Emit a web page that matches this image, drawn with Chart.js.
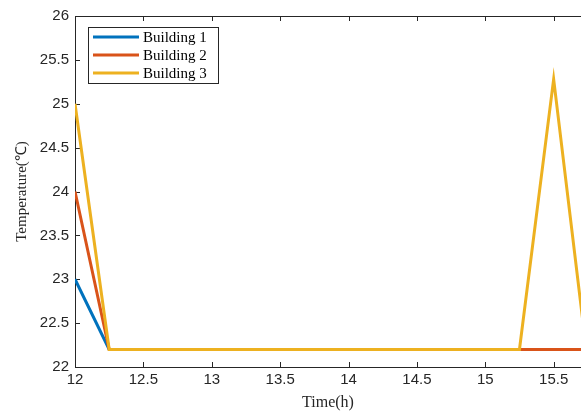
<!DOCTYPE html>
<html>
<head>
<meta charset="utf-8">
<title>Building temperature</title>
<script src="https://cdn.jsdelivr.net/npm/chart.js@4/dist/chart.umd.min.js"></script>
<style>
  html, body { margin: 0; padding: 0; background: #fff; }
  #wrap { width: 581px; height: 412px; }
</style>
</head>
<body>
<div id="wrap"><canvas id="grafica"></canvas></div>
<script>
// time in hours
const horas = [12, 12.25, 12.5, 12.75, 13, 13.25, 13.5, 13.75, 14, 14.25, 14.5, 14.75, 15, 15.25, 15.5, 15.75];
const edificio1 = [23, 22.2, 22.2, 22.2, 22.2, 22.2, 22.2, 22.2, 22.2, 22.2, 22.2, 22.2, 22.2, 22.2, 22.2, 22.2];
const edificio2 = [24, 22.2, 22.2, 22.2, 22.2, 22.2, 22.2, 22.2, 22.2, 22.2, 22.2, 22.2, 22.2, 22.2, 22.2, 22.2];
const edificio3 = [25, 22.2, 22.2, 22.2, 22.2, 22.2, 22.2, 22.2, 22.2, 22.2, 22.2, 22.2, 22.2, 22.2, 25.28, 22.05];
const nombres = ['Building 1', 'Building 2', 'Building 3'];
const colores = ['#0072BD', '#D95319', '#EDB120'];
const ticksX = [12, 12.5, 13, 13.5, 14, 14.5, 15, 15.5];
const ticksY = [22, 22.5, 23, 23.5, 24, 24.5, 25, 25.5, 26];

const series = [edificio1, edificio2, edificio3];
const ejeColor = '#262626';

function puntos(valores) {
  return horas.map((h, i) => ({ x: h, y: valores[i] }));
}

// frame, inward ticks and the legend box (MATLAB style)
const marco = {
  id: 'marco',
  beforeDatasetsDraw(chart) {
    const { ctx, chartArea: a, scales } = chart;
    ctx.save();
    ctx.strokeStyle = ejeColor;
    ctx.lineWidth = 1;
    ctx.beginPath();
    ctx.moveTo(a.right + 1, a.top + 0.5);
    ctx.lineTo(a.left + 0.5, a.top + 0.5);
    ctx.lineTo(a.left + 0.5, a.bottom + 0.5);
    ctx.lineTo(a.right + 1, a.bottom + 0.5);
    ctx.stroke();
    ctx.beginPath();
    ticksX.forEach(v => {
      const px = Math.round(scales.x.getPixelForValue(v)) + 0.5;
      ctx.moveTo(px, a.bottom);
      ctx.lineTo(px, a.bottom - 5);
      ctx.moveTo(px, a.top);
      ctx.lineTo(px, a.top + 5);
    });
    ticksY.forEach(v => {
      const py = Math.round(scales.y.getPixelForValue(v)) + 0.5;
      ctx.moveTo(a.left, py);
      ctx.lineTo(a.left + 5, py);
    });
    ctx.stroke();
    ctx.restore();
  },
  afterDraw(chart) {
    const { ctx } = chart;
    ctx.save();
    ctx.fillStyle = '#fff';
    ctx.fillRect(88, 27, 130, 56);
    ctx.strokeStyle = ejeColor;
    ctx.lineWidth = 1;
    ctx.strokeRect(88.5, 27.5, 130, 56);
    ctx.font = '15px "Liberation Serif", "Times New Roman", serif';
    ctx.textBaseline = 'middle';
    nombres.forEach((n, i) => {
      const y = 37 + i * 18;
      ctx.strokeStyle = colores[i];
      ctx.lineWidth = 3;
      ctx.beginPath();
      ctx.moveTo(93, y);
      ctx.lineTo(139, y);
      ctx.stroke();
      ctx.fillStyle = '#000';
      ctx.fillText(n, 143, y + 1);
    });
    ctx.restore();
  }
};

const etiqueta = v => String(v);

new Chart(document.getElementById('grafica'), {
  type: 'line',
  data: {
    datasets: series.map((s, i) => ({
      label: nombres[i],
      data: puntos(s),
      borderColor: colores[i],
      backgroundColor: colores[i],
      borderWidth: 3,
      pointRadius: 0,
      tension: 0,
      order: 3 - i
    }))
  },
  options: {
    responsive: true,
    maintainAspectRatio: false,
    animation: false,
    layout: { padding: { top: 16, right: 0, left: 0, bottom: 0 } },
    plugins: {
      legend: { display: false },
      tooltip: { enabled: false }
    },
    scales: {
      x: {
        type: 'linear',
        min: 12,
        max: 15.7,
        afterBuildTicks: axis => { axis.ticks = ticksX.map(v => ({ value: v })); },
        afterFit: axis => { axis.height = 45; },
        grid: { display: false, drawTicks: false },
        border: { display: false },
        ticks: {
          padding: 4,
          color: ejeColor,
          callback: etiqueta,
          font: { family: '"Liberation Sans", Arial, sans-serif', size: 15 },
          maxRotation: 0,
          autoSkip: false
        },
        title: {
          display: true,
          text: 'Time(h)',
          color: '#262626',
          padding: { top: 0, bottom: 0 },
          font: { family: '"Liberation Serif", "Times New Roman", serif', size: 16 }
        }
      },
      y: {
        min: 22,
        max: 26,
        afterBuildTicks: axis => { axis.ticks = ticksY.map(v => ({ value: v })); },
        afterFit: axis => { axis.width = 75; },
        grid: { display: false, drawTicks: false },
        border: { display: false },
        ticks: {
          padding: 6,
          color: ejeColor,
          callback: etiqueta,
          font: { family: '"Liberation Sans", Arial, sans-serif', size: 15 }
        },
        title: {
          display: true,
          text: 'Temperature(℃)',
          color: '#262626',
          padding: { top: 13, bottom: 0 },
          font: { family: '"Liberation Serif", "Times New Roman", serif', size: 15 }
        }
      }
    }
  },
  plugins: [marco]
});
</script>
</body>
</html>
